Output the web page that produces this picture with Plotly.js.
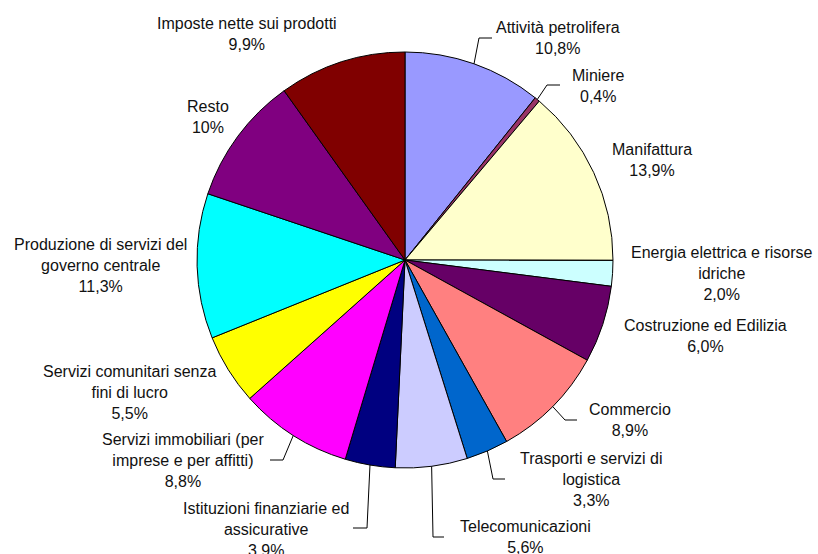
<!DOCTYPE html>
<html>
<head>
<meta charset="utf-8">
<script src="https://cdn.plot.ly/plotly-3.0.1.min.js"></script>
<style>html,body{margin:0;padding:0;background:#fff;}#chart{width:818px;height:554px;}</style>
</head>
<body>
<div id="chart"></div>
<script>
// ---- data ----
var sectors = [
  "Attività petrolifera", "Miniere", "Manifattura",
  "Energia elettrica e risorse<br>idriche", "Costruzione ed Edilizia", "Commercio",
  "Trasporti e servizi di<br>logistica", "Telecomunicazioni",
  "Istituzioni finanziarie ed<br>assicurative", "Servizi immobiliari (per<br>imprese e per affitti)",
  "Servizi comunitari senza<br>fini di lucro", "Produzione di servizi del<br>governo centrale",
  "Resto", "Imposte nette sui prodotti"
];
var shares = [10.8, 0.4, 13.9, 2.0, 6.0, 8.9, 3.3, 5.6, 3.9, 8.8, 5.5, 11.3, 10, 9.9];
var shareLabels = ["10,8%", "0,4%", "13,9%", "2,0%", "6,0%", "8,9%", "3,3%", "5,6%", "3,9%", "8,8%", "5,5%", "11,3%", "10%", "9,9%"];

// ---- styles ----
var sliceColors = ["#9999FF", "#993366", "#FFFFCC", "#CCFFFF", "#660066", "#FF8080",
                   "#0066CC", "#CCCCFF", "#000080", "#FF00FF", "#FFFF00", "#00FFFF",
                   "#800080", "#800000"];

// ---- layout geometry (pixels) ----
var W = 818, H = 554;
var cx = 405, cy = 260, R = 208;
// label block centres
var labelPos = [
  [558, 38], [598, 86], [652, 160], [722, 274], [705, 336], [630, 420],
  [591, 479], [525, 537], [266, 529], [183, 461], [130, 392], [100, 266],
  [208, 117], [247, 34]
];
// leader lines: [elbowX, elbowY, endX] or null
var leaders = [
  [479, 38, 492], [547, 85, 560], null, null, null, [565, 420, 577],
  [493, 479, 505], [433, 537, 444], [367, 528, 353], [283, 460, 270], null, null,
  null, null
];

function px(x) { return x / W; }
function py(y) { return 1 - y / H; }

var trace = {
  type: 'pie',
  labels: sectors,
  values: shares,
  sort: false,
  direction: 'clockwise',
  rotation: 0,
  textinfo: 'none',
  hoverinfo: 'label+percent',
  marker: { colors: sliceColors, line: { color: '#000000', width: 1 } },
  domain: { x: [px(cx - R), px(cx + R)], y: [py(cy + R), py(cy - R)] },
  showlegend: false
};

var total = shares.reduce(function (a, b) { return a + b; }, 0);
var annotations = [], shapes = [];
var cum = 0;
for (var i = 0; i < shares.length; i++) {
  var mid = (cum + shares[i] / 2) / total;
  cum += shares[i];
  annotations.push({
    xref: 'paper', yref: 'paper',
    x: px(labelPos[i][0]), y: py(labelPos[i][1]),
    xanchor: 'center', yanchor: 'middle',
    text: sectors[i] + '<br>' + shareLabels[i],
    showarrow: false, align: 'center',
    font: { family: 'Liberation Sans, Arial, sans-serif', size: 16, color: '#111111' }
  });
  if (leaders[i]) {
    var th = 2 * Math.PI * mid;
    var sx = cx + R * Math.sin(th), sy = cy - R * Math.cos(th);
    var L = leaders[i];
    shapes.push({
      type: 'path', xref: 'paper', yref: 'paper',
      path: 'M ' + px(sx) + ' ' + py(sy) + ' L ' + px(L[0]) + ' ' + py(L[1]) + ' L ' + px(L[2]) + ' ' + py(L[1]),
      line: { color: '#000000', width: 1 }
    });
  }
}

var layout = {
  width: W, height: H,
  margin: { l: 0, r: 0, t: 0, b: 0 },
  paper_bgcolor: '#ffffff',
  plot_bgcolor: '#ffffff',
  annotations: annotations,
  shapes: shapes,
  font: { family: 'Liberation Sans, Arial, sans-serif' }
};

Plotly.newPlot('chart', [trace], layout, { displayModeBar: false, staticPlot: true });
</script>
</body>
</html>
